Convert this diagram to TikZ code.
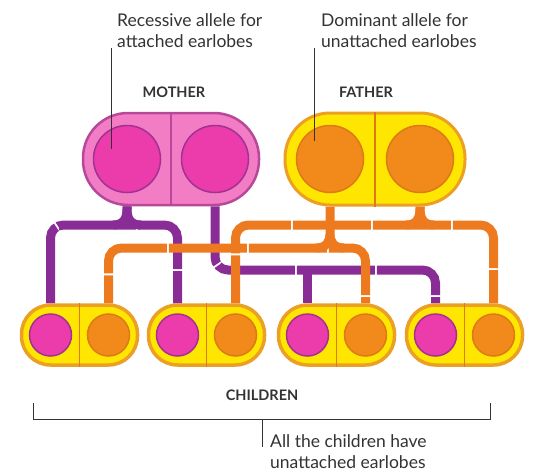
\documentclass[tikz,border=0pt]{standalone}
\usepackage{fontspec}
\setmainfont{Lato}
\usetikzlibrary{backgrounds,calc}
\definecolor{purp}{HTML}{8A2C96}
\definecolor{orl}{HTML}{EE7A20}
\definecolor{mfill}{HTML}{F27DC4}
\definecolor{mborder}{HTML}{B8489A}
\definecolor{pinkc}{HTML}{EC3BAA}
\definecolor{pinkb}{HTML}{A03392}
\definecolor{yel}{HTML}{FFE600}
\definecolor{yborder}{HTML}{EBA025}
\definecolor{orc}{HTML}{F28A1B}
\definecolor{orb}{HTML}{DC7A15}
\definecolor{txt}{HTML}{333333}
\begin{document}
\begin{tikzpicture}[x=1pt,y=-1pt,
  mcapst/.style={draw=mborder,line width=2.5pt,fill=mfill,rounded corners=45pt,minimum width=176pt,minimum height=92pt,inner sep=0pt},
  fcapst/.style={draw=yborder,line width=3pt,fill=yel,rounded corners=45pt,minimum width=180pt,minimum height=92pt,inner sep=0pt},
  ccapst/.style={draw=yborder,line width=3.5pt,fill=yel,rounded corners=29pt,minimum width=116pt,minimum height=60pt,inner sep=0pt},
  bigpink/.style={circle,fill=pinkc,draw=pinkb,line width=1.5pt,minimum size=67pt,inner sep=0pt},
  bigorange/.style={circle,fill=orc,draw=orb,line width=1.5pt,minimum size=67pt,inner sep=0pt},
  smallpink/.style={circle,fill=pinkc,draw=pinkb,line width=1.5pt,minimum size=42pt,inner sep=0pt},
  smallorange/.style={circle,fill=orc,draw=orb,line width=1.5pt,minimum size=42pt,inner sep=0pt},
  pipe/.style={line width=9pt,rounded corners=13pt,dash pattern=on 78pt off 2pt},
  ppipe/.style={pipe,draw=purp},
  opipe/.style={pipe,draw=orl},
  forkp/.style={line width=9pt,draw=purp},
  forko/.style={line width=9pt,draw=orl},
  lab/.style={font=\fontsize{14.5}{17}\selectfont\bfseries,text=txt},
  note/.style={font=\fontsize{17.5}{21}\selectfont,text=txt,align=left,inner sep=0pt},
  leader/.style={draw=txt,line width=0.9pt}
]
\useasboundingbox (0,0) rectangle (533,474);

% parents
\node[mcapst] (mcap) at (171,159) {};
\node[fcapst] (fcap) at (375,159) {};
\draw[mborder,line width=1.6pt] (mcap.north) -- (mcap.south);
\draw[orb,line width=1.6pt] (fcap.north) -- (fcap.south);
\node[bigpink] (m1) at (127,159) {};
\node[bigpink] (m2) at (215,159) {};
\node[bigorange] (f1) at (330,159) {};
\node[bigorange] (f2) at (420,159) {};

% children
\foreach \i/\cx in {1/79.5,2/206.5,3/336.5,4/464.5}{
  \node[ccapst] (c\i) at (\cx,335) {};
  \draw[orb,line width=1.4pt] (c\i.north) -- (c\i.south);
  \node[smallpink] (c\i p) at (\cx-29,335) {};
  \node[smallorange] (c\i o) at (\cx+29,335) {};
}

% levels
\coordinate (y225) at (0,225);
\coordinate (y248) at (0,248);
\coordinate (y270) at (0,270);

\begin{scope}[on background layer]
  % purple: mother left allele
  \draw[ppipe] (c1p |- c1.north) |- (m1 |- y225) -| (c2p |- c2.north);
  \draw[forkp] (m1 |- mcap.south) -- ++(0,3)
     .. controls ($(m1 |- y225)+(0,-6)$) and ($(m1 |- y225)+(-4,0)$) .. ($(m1 |- y225)+(-14,0)$);
  \draw[forkp] (m1 |- mcap.south) -- ++(0,3)
     .. controls ($(m1 |- y225)+(0,-6)$) and ($(m1 |- y225)+(4,0)$) .. ($(m1 |- y225)+(14,0)$);
  % purple: mother right allele
  \draw[ppipe,dash phase=20pt] (m2 |- mcap.south) |- (c3p |- y270) -| (c4p |- c4.north);
  \draw[ppipe] (c3p |- y270) -- (c3p |- c3.north);
  % orange: father right allele
  \draw[opipe,dash phase=30pt] (c2o |- c2.north) |- (f2 |- y225) -| (c4o |- c4.north);
  \draw[forko] (f2 |- fcap.south) -- ++(0,2)
     .. controls ($(f2 |- y225)+(0,-6)$) and ($(f2 |- y225)+(-4,0)$) .. ($(f2 |- y225)+(-14,0)$);
  \draw[forko] (f2 |- fcap.south) -- ++(0,2)
     .. controls ($(f2 |- y225)+(0,-6)$) and ($(f2 |- y225)+(4,0)$) .. ($(f2 |- y225)+(14,0)$);
  % orange: father left allele
  \draw[opipe,dash phase=50pt] (c1o |- c1.north) |- (f1 |- y248) -| (c3o |- c3.north);
  \draw[forko] (f1 |- fcap.south) -- ($(f1 |- y248)+(0,-14)$)
     .. controls ($(f1 |- y248)+(0,-6)$) and ($(f1 |- y248)+(-4,0)$) .. ($(f1 |- y248)+(-14,0)$);
  \draw[forko] ($(f1 |- y248)+(0,-14)$)
     .. controls ($(f1 |- y248)+(0,-6)$) and ($(f1 |- y248)+(4,0)$) .. ($(f1 |- y248)+(14,0)$);
\end{scope}

% labels
\node[lab] (mlab) at (174,92) {MOTHER};
\node[lab] (flab) at (366,92) {FATHER};
\node[lab] (clab) at (262,395) {CHILDREN};

% notes (base anchor = last line's baseline)
\node[note,anchor=base west] (rec) at (117,47) {Recessive allele for\\attached earlobes};
\node[note,anchor=base west] (dom) at (321,47) {Dominant allele for\\unattached earlobes};
\coordinate (rtop) at (111,48);
\coordinate (dtop) at (314,48);
\draw[leader] (rtop) -- ($(rtop |- m1)+(0,-10)$);
\draw[leader] (dtop) -- ($(dtop |- f1)+(0,-18)$);

% bracket
\coordinate (bl) at (33,403);
\coordinate (br) at (490,403);
\coordinate (bm) at (262,419);
\draw[leader] (bl) -- (bl |- bm) -- (br |- bm) -- (br);
\draw[leader] (bm) -- ++(0,28);
\node[note,anchor=base west] (all) at (270,468) {All the children have\\unattached earlobes};
\end{tikzpicture}
\end{document}
